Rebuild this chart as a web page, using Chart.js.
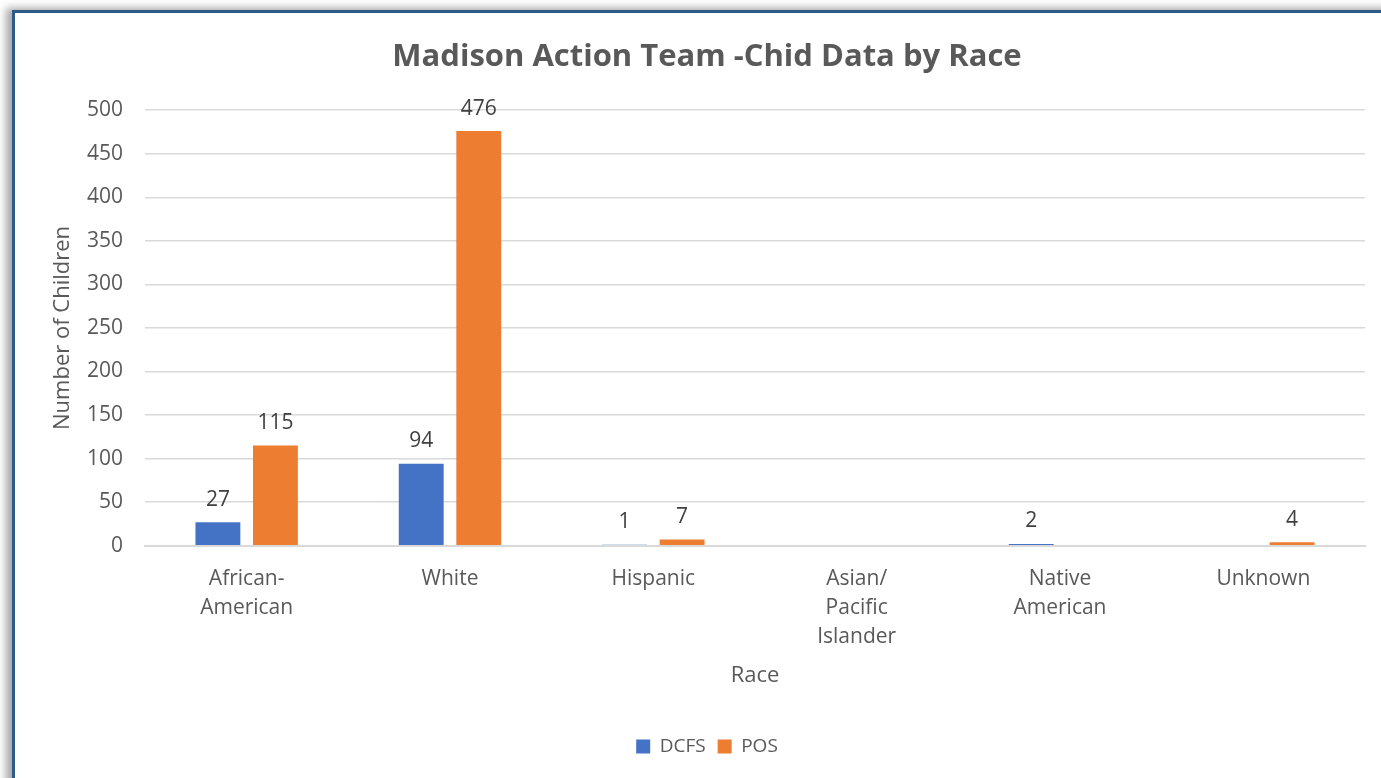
<!DOCTYPE html>
<html>
<head>
<meta charset="utf-8">
<script src="https://cdn.jsdelivr.net/npm/chart.js@4/dist/chart.umd.min.js"></script>
<style>
  html, body { margin: 0; padding: 0; background: #ffffff; overflow: hidden; }
  body { width: 1381px; height: 778px; position: relative; }
  #frame {
    position: absolute; left: 12px; top: 10px; width: 1384px; height: 790px;
    border-left: 3px solid #2e5a87; border-top: 3px solid #2e5a87;
    box-shadow: -6px -2px 8px rgba(0,0,0,0.35);
    background: #ffffff;
  }
  #wrap { position: absolute; left: 0; top: 0; width: 1384px; height: 766px; }
</style>
</head>
<body>
<div id="frame"><div id="wrap"><canvas id="chart"></canvas></div></div>
<script>
const categories = [
  ["African-", "American"],
  "White",
  "Hispanic",
  ["Asian/", "Pacific", "Islander"],
  ["Native", "American"],
  "Unknown",
];
const dcfs = [27, 94, 1, null, 2, null];
const pos = [115, 476, 7, null, null, 4];
const yTicks = [0, 50, 100, 150, 200, 250, 300, 350, 400, 450, 500];

const FONT = "'Open Sans', 'Noto Sans', sans-serif";
const TEXT = "#595959";

// draws the value above each bar, like Excel data labels
const valueLabels = {
  id: "valueLabels",
  afterDatasetsDraw(chart) {
    const ctx = chart.ctx;
    ctx.save();
    ctx.font = "21px " + FONT;
    ctx.fillStyle = "#404040";
    ctx.textAlign = "center";
    ctx.textBaseline = "bottom";
    chart.data.datasets.forEach((ds, i) => {
      chart.getDatasetMeta(i).data.forEach((bar, j) => {
        const v = ds.data[j];
        if (v === null || v === undefined) return;
        ctx.fillText(String(v), bar.x, bar.y - 12);
      });
    });
    ctx.restore();
  },
};

new Chart(document.getElementById("chart"), {
  type: "bar",
  data: {
    labels: categories,
    datasets: [
      {
        label: "DCFS",
        data: dcfs,
        backgroundColor: "#4472C4",
        categoryPercentage: 0.566,
        barPercentage: 0.78,
      },
      {
        label: "POS",
        data: pos,
        backgroundColor: "#ED7D31",
        categoryPercentage: 0.566,
        barPercentage: 0.78,
      },
    ],
  },
  options: {
    responsive: true,
    maintainAspectRatio: false,
    animation: false,
    layout: { padding: { top: 10, right: 0, bottom: 13, left: 0 } },
    plugins: {
      title: {
        display: true,
        text: "Madison Action Team -Chid Data by Race",
        color: TEXT,
        font: { family: FONT, size: 31, weight: "bold" },
        padding: { top: 16, bottom: 34 },
      },
      legend: {
        position: "bottom",
        labels: {
          color: TEXT,
          font: { family: FONT, size: 19 },
          boxWidth: 14,
          boxHeight: 14,
          padding: 12,
        },
      },
      tooltip: { enabled: false },
    },
    scales: {
      x: {
        grid: { display: false },
        border: { color: "#d9d9d9", width: 2 },
        ticks: {
          color: TEXT,
          font: { family: FONT, size: 21, lineHeight: 1.38 },
          padding: 11,
          maxRotation: 0,
        },
        title: {
          display: true,
          text: "Race",
          color: TEXT,
          font: { family: FONT, size: 22 },
          padding: { top: 0, bottom: 36 },
        },
      },
      y: {
        min: 0,
        max: 500,
        afterBuildTicks(axis) {
          axis.ticks = yTicks.map((v) => ({ value: v }));
        },
        afterFit(axis) {
          axis.width = 130;
        },
        grid: { color: "#d9d9d9", lineWidth: 1.5, drawTicks: false },
        border: { display: false },
        ticks: { color: TEXT, font: { family: FONT, size: 21 }, padding: 22 },
        title: {
          display: true,
          text: "Number of Children",
          color: TEXT,
          font: { family: FONT, size: 22 },
          padding: { top: 35, bottom: 0 },
        },
      },
      // empty right-hand margin so the plot stops short of the frame edge
      yRight: {
        position: "right",
        min: 0,
        max: 500,
        grid: { display: false },
        border: { display: false },
        ticks: { display: false },
        afterFit(axis) {
          axis.width = 34;
        },
      },
    },
  },
  plugins: [valueLabels],
});
</script>
</body>
</html>
